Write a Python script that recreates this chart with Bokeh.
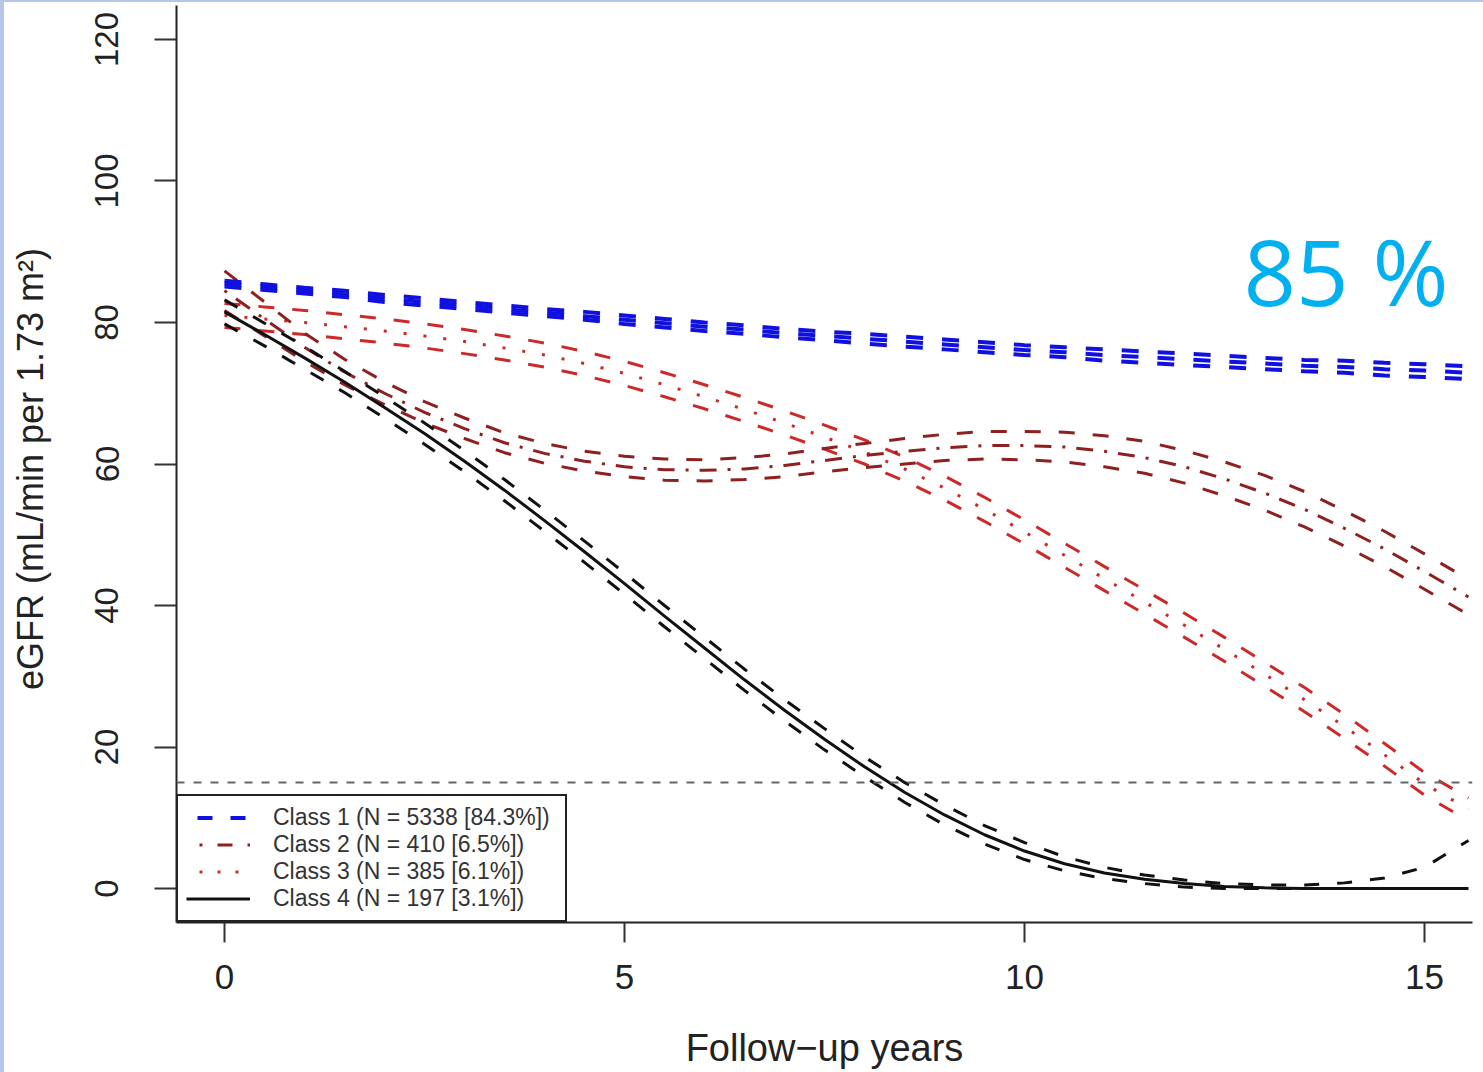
from bokeh.plotting import figure
from bokeh.models import (ColumnDataSource, Legend, LegendItem, Label, Span,
                          FixedTicker, Range1d, Spacer)
from bokeh.layouts import column, row
from bokeh.embed import file_html
from bokeh.resources import INLINE

# ---------------- data ----------------
years = [0, 0.5, 1, 1.5, 2, 2.5, 3, 3.5, 4, 4.5, 5, 5.5, 6, 6.5, 7, 7.5,
         8, 8.5, 9, 9.5, 10, 10.5, 11, 11.5, 12, 12.5, 13, 13.5, 14, 14.5, 15, 15.55]

class1_mean = [85.5, 85.0, 84.5, 84.0, 83.4, 82.9, 82.4, 81.9, 81.4, 80.9, 80.4, 79.9, 79.4, 79.0, 78.5, 78.1,
               77.7, 77.3, 76.9, 76.5, 76.1, 75.8, 75.4, 75.1, 74.8, 74.5, 74.2, 73.9, 73.7, 73.4, 73.2, 72.9]
class1_upper = [85.9, 85.4, 84.9, 84.5, 83.9, 83.4, 82.9, 82.4, 81.9, 81.5, 81.0, 80.5, 80.0, 79.6, 79.1, 78.7,
                78.4, 78.0, 77.6, 77.2, 76.8, 76.5, 76.2, 75.9, 75.6, 75.3, 75.0, 74.7, 74.6, 74.3, 74.1, 73.8]
class1_lower = [85.1, 84.6, 84.1, 83.6, 82.9, 82.4, 81.9, 81.4, 80.9, 80.4, 79.8, 79.3, 78.8, 78.4, 77.9, 77.5,
                77.0, 76.6, 76.2, 75.8, 75.4, 75.1, 74.6, 74.3, 74.0, 73.7, 73.4, 73.1, 72.9, 72.5, 72.3, 72.0]

class2_mean = [84.5, 80.5, 76.5, 73.0, 70.0, 67.3, 65.0, 63.0, 61.5, 60.4, 59.6, 59.2, 59.1, 59.3, 59.8, 60.5,
               61.2, 61.8, 62.3, 62.6, 62.6, 62.4, 61.8, 60.9, 59.6, 57.9, 55.9, 53.6, 50.9, 48.0, 44.8, 41.2]
class2_upper = [87.3, 82.9, 78.5, 74.8, 71.6, 68.8, 66.5, 64.4, 62.9, 61.8, 61.1, 60.7, 60.6, 60.9, 61.4, 62.2,
                62.9, 63.6, 64.2, 64.6, 64.6, 64.5, 64.0, 63.2, 61.9, 60.3, 58.4, 56.1, 53.4, 50.5, 47.3, 43.7]
class2_lower = [81.7, 78.1, 74.5, 71.2, 68.4, 65.8, 63.6, 61.6, 60.1, 59.0, 58.2, 57.7, 57.6, 57.8, 58.2, 58.9,
                59.5, 60.0, 60.5, 60.7, 60.6, 60.3, 59.6, 58.7, 57.3, 55.5, 53.5, 51.1, 48.4, 45.5, 42.3, 38.7]

class3_mean = [81.0, 80.5, 80.0, 79.4, 78.8, 78.1, 77.3, 76.4, 75.4, 74.2, 72.8, 71.2, 69.5, 67.7, 65.8, 63.8,
               61.7, 59.3, 56.6, 53.6, 50.4, 47.1, 43.8, 40.5, 37.2, 33.8, 30.3, 26.7, 22.9, 18.9, 14.8, 11.2]
class3_upper = [82.7, 82.2, 81.7, 81.1, 80.5, 79.8, 79.0, 78.1, 77.1, 75.9, 74.5, 72.9, 71.2, 69.4, 67.5, 65.5,
                63.4, 61.0, 58.3, 55.3, 52.1, 48.8, 45.5, 42.2, 38.9, 35.5, 32.0, 28.4, 24.6, 20.5, 16.4, 12.8]
class3_lower = [79.3, 78.8, 78.3, 77.7, 77.1, 76.4, 75.6, 74.7, 73.7, 72.5, 71.1, 69.5, 67.8, 66.0, 64.1, 62.1,
                60.0, 57.6, 54.9, 51.9, 48.7, 45.4, 42.1, 38.8, 35.5, 32.1, 28.6, 25.0, 21.2, 17.3, 13.2, 9.6]

class4_mean = [81.5, 78.3, 75.0, 71.6, 68.0, 64.3, 60.4, 56.3, 52.0, 47.6, 43.1, 38.5, 34.0, 29.5, 25.2, 21.1,
               17.2, 13.6, 10.4, 7.6, 5.3, 3.5, 2.2, 1.3, 0.7, 0.3, 0.1, 0.0, 0.0, 0.0, 0.0, 0.0]
class4_upper = [83.2, 79.9, 76.6, 73.1, 69.5, 65.8, 61.9, 57.8, 53.5, 49.1, 44.6, 40.0, 35.5, 31.0, 26.7, 22.6,
                18.6, 15.0, 11.8, 8.9, 6.5, 4.5, 3.0, 1.9, 1.2, 0.7, 0.5, 0.5, 0.8, 1.5, 3.0, 6.8]
class4_lower = [79.8, 76.7, 73.4, 70.1, 66.5, 62.8, 58.9, 54.8, 50.5, 46.1, 41.6, 37.0, 32.5, 28.0, 23.7, 19.6,
                15.8, 12.2, 9.0, 6.3, 4.1, 2.5, 1.4, 0.7, 0.2, 0.0, 0.0, 0.0, 0.0, 0.0, 0.0, 0.0]

class_labels = ["Class 1 (N = 5338 [84.3%])",
                "Class 2 (N = 410 [6.5%])",
                "Class 3 (N = 385 [6.1%])",
                "Class 4 (N = 197 [3.1%])"]
x_ticks = [0, 5, 10, 15]
y_ticks = [0, 20, 40, 60, 80, 100, 120]
esrd_threshold = 15
share_text = "85 %"

# ---------------- styles ----------------
FONT = "Liberation Sans"
C1 = "#1010e0"
C2 = "#8e2020"
C3 = "#cc2a2a"
C4 = "#111111"
FRAME_BG = "#b4c7e7"

p = figure(width=1479, height=1070,
           x_range=Range1d(-0.6, 15.6), y_range=Range1d(-4.8, 124.8),
           output_backend="svg", toolbar_location=None,
           min_border_left=172, min_border_right=11,
           min_border_top=3, min_border_bottom=150)
p.grid.visible = False
p.outline_line_color = None
p.background_fill_color = "white"
p.border_fill_color = "white"

# axes
for ax in (p.xaxis[0], p.yaxis[0]):
    ax.axis_line_color = "#222222"
    ax.axis_line_width = 2
    ax.major_tick_line_color = "#333333"
    ax.major_tick_line_width = 2
    ax.major_tick_in = 0
    ax.minor_tick_out = 0
    ax.minor_tick_in = 0
    ax.major_label_text_font = FONT
    ax.major_label_text_color = "#222222"
    ax.axis_label_text_font = FONT
    ax.axis_label_text_font_style = "normal"
    ax.axis_label_text_color = "#222222"

p.xaxis.ticker = FixedTicker(ticks=x_ticks)
p.xaxis.major_tick_out = 20
p.xaxis.major_label_text_font_size = "35px"
p.xaxis.major_label_standoff = 22
p.xaxis.axis_label = "Follow\u2212up years"
p.xaxis.axis_label_text_font_size = "38px"
p.xaxis.axis_label_standoff = 35

p.yaxis.ticker = FixedTicker(ticks=y_ticks)
p.yaxis.major_tick_out = 22
p.yaxis.major_label_text_font_size = "33px"
p.yaxis.major_label_orientation = "vertical"
p.yaxis.major_label_standoff = 36
p.yaxis.axis_label = "eGFR (mL/min per 1.73  m\u00b2)"
p.yaxis.axis_label_text_font_size = "36px"
p.yaxis.axis_label_standoff = 42

# ESRD threshold line
p.add_layout(Span(location=esrd_threshold, dimension="width", line_color="#666666",
                  line_dash="8 9", line_width=2))

W = 3
def draw_class(upper, mean, lower, color, mean_dash, ci_dash, width):
    p.line(years, upper, line_color=color, line_dash=ci_dash, line_width=width)
    p.line(years, lower, line_color=color, line_dash=ci_dash, line_width=width)
    p.line(years, mean, line_color=color, line_dash=mean_dash, line_width=width)

draw_class(class3_upper, class3_mean, class3_lower, C3, "3 17", "16 18", W)
draw_class(class2_upper, class2_mean, class2_lower, C2, "3 11 17 11", "16 18", W)
draw_class(class1_upper, class1_mean, class1_lower, C1, "17 19", "17 19", 4)
draw_class(class4_upper, class4_mean, class4_lower, C4, "solid", "15 18", W)

# legend (dedicated sample renderers; a single NaN point so nothing shows in the plot)
def sample_src():
    return ColumnDataSource(dict(x=[float("nan")], y=[float("nan")]))

l1 = p.line("x", "y", source=sample_src(), line_color=C1, line_width=4,
            line_dash="15 18", line_dash_offset=22)
l2 = p.line("x", "y", source=sample_src(), line_color=C2, line_width=3,
            line_dash="3 15 15 15", line_dash_offset=35)
l3 = p.line("x", "y", source=sample_src(), line_color=C3, line_width=3,
            line_dash="3 15", line_dash_offset=5)
l4 = p.line("x", "y", source=sample_src(), line_color=C4, line_width=3)

legend = Legend(items=[LegendItem(label=class_labels[0], renderers=[l1]),
                       LegendItem(label=class_labels[1], renderers=[l2]),
                       LegendItem(label=class_labels[2], renderers=[l3]),
                       LegendItem(label=class_labels[3], renderers=[l4])],
                location=(0, 0), padding=8, spacing=0, margin=0,
                glyph_width=64, glyph_height=25, label_height=25, label_width=284,
                label_standoff=23,
                label_text_font=FONT, label_text_font_size="23px",
                label_text_color="#333333",
                border_line_color="#222222", border_line_width=2, border_line_alpha=1.0,
                background_fill_color="white", background_fill_alpha=1.0)
p.add_layout(legend)

# big share annotation
p.add_layout(Label(x=1067, y=652, x_units="screen", y_units="screen", text=share_text,
                   text_font="Open Sans", text_font_size="92px", text_color="#00b0f0",
                   text_baseline="alphabetic", text_align="left"))

top_bar = Spacer(width=1483, height=2, styles={"background-color": FRAME_BG})
left_bar = Spacer(width=4, height=1070, styles={"background-color": FRAME_BG})
layout = column(top_bar, row(left_bar, p, spacing=0), spacing=0)

open("out.html", "w").write(file_html(layout, INLINE))
